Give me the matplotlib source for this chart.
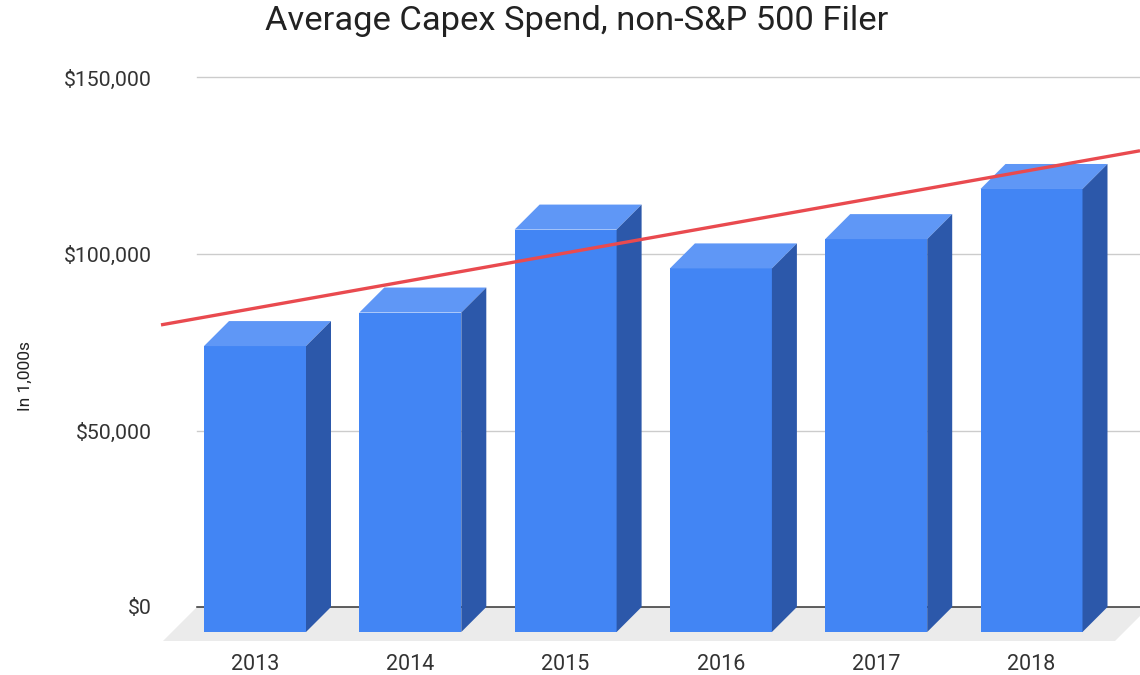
import numpy as np
import matplotlib
matplotlib.use("Agg")
import matplotlib.pyplot as plt
from matplotlib.patches import Polygon

plt.rcParams['font.family'] = ['Roboto', 'DejaVu Sans']

# ---- data ----
years = ["2013", "2014", "2015", "2016", "2017", "2018"]
capex = [81000, 90500, 114000, 103000, 111300, 125500]
yticks = [0, 50000, 100000, 150000]
ytick_labels = ["$0", "$50,000", "$100,000", "$150,000"]
title = "Average Capex Spend, non-S&P 500 Filer"
ylabel = "In 1,000s"

# ---- layout (pixels) ----
W, H = 1140, 675
dpi = 100
fig = plt.figure(figsize=(W / dpi, H / dpi), dpi=dpi)

ax_left_px, ax_right_px = 197, 1140
ax_bottom_px, ax_top_px = 648, 60
zero_px = 607           # pixel row of value 0 (back plane)
px_per_val = 176.5 / 50000
first_center_px = 255    # front-face center of first bar
spacing_px = 155.3
depth_px = 25            # 3D offset of bars
floor_depth_px = 34
floor_front_right_px = 1115
bar_w_px = 102

ax = fig.add_axes([ax_left_px / W, 1 - ax_bottom_px / H,
                   (ax_right_px - ax_left_px) / W, (ax_bottom_px - ax_top_px) / H])
x0 = (ax_left_px - first_center_px) / spacing_px
x1 = (ax_right_px - first_center_px) / spacing_px
y0 = -(ax_bottom_px - zero_px) / px_per_val
y1 = (zero_px - ax_top_px) / px_per_val
ax.set_xlim(x0, x1)
ax.set_ylim(y0, y1)

dx = depth_px / spacing_px
dy = depth_px / px_per_val
fdx = floor_depth_px / spacing_px
fdy = floor_depth_px / px_per_val
bw = bar_w_px / spacing_px
fr = (floor_front_right_px - first_center_px) / spacing_px

# floor
floor = Polygon([(x0 - fdx, -fdy), (fr, -fdy), (fr + fdx, 0), (x0, 0)],
                closed=True, facecolor="#ebebeb", edgecolor="none",
                zorder=1, clip_on=False)
ax.add_patch(floor)

# gridlines
for t in yticks[1:]:
    ax.plot([x0, x1], [t, t], color="#cccccc", lw=1, zorder=0.5, clip_on=False)
ax.plot([x0, x1], [0, 0], color="#333333", lw=1.1, zorder=1.5, clip_on=False)

front_c = "#4285f4"
top_c = "#5f97f6"
side_c = "#2c58aa"
for i, v in enumerate(capex):
    l, r = i - bw / 2, i + bw / 2
    front = Polygon([(l, -dy), (r, -dy), (r, v - dy), (l, v - dy)],
                    facecolor=front_c, edgecolor="none", zorder=3)
    top = Polygon([(l, v - dy), (r, v - dy), (r + dx, v), (l + dx, v)],
                  facecolor=top_c, edgecolor="none", zorder=3)
    side = Polygon([(r, -dy), (r + dx, 0), (r + dx, v), (r, v - dy)],
                   facecolor=side_c, edgecolor="none", zorder=3)
    for p in (front, top, side):
        ax.add_patch(p)

# linear trendline
xs = np.arange(len(capex))
slope, intercept = np.polyfit(xs, capex, 1)
tx0 = (161 - first_center_px) / spacing_px
tx = np.array([tx0, x1])
ax.plot(tx, intercept + slope * tx, color="#e94a4f", lw=2.4, zorder=5,
        clip_on=False, solid_capstyle="butt")

# axes styling
for s in ax.spines.values():
    s.set_visible(False)
ax.set_yticks(yticks)
ax.set_yticklabels(ytick_labels, fontsize=15.3, color="#333333")
ax.tick_params(axis="y", length=0, pad=(ax_left_px - 152) * 72 / dpi)
ax.set_xticks(xs)
ax.set_xticklabels(years, fontsize=15.5, color="#333333")
ax.tick_params(axis="x", length=0, pad=4)
ax.set_facecolor("none")

fig.text(577 / W, 1 - 21 / H, title, ha="center", va="center",
         fontsize=24.8, color="#222222")
fig.text(25 / W, 1 - 376 / H, ylabel, ha="center", va="center",
         rotation=90, fontsize=12.5, color="#222222")

fig.savefig("out.png", dpi=dpi)
